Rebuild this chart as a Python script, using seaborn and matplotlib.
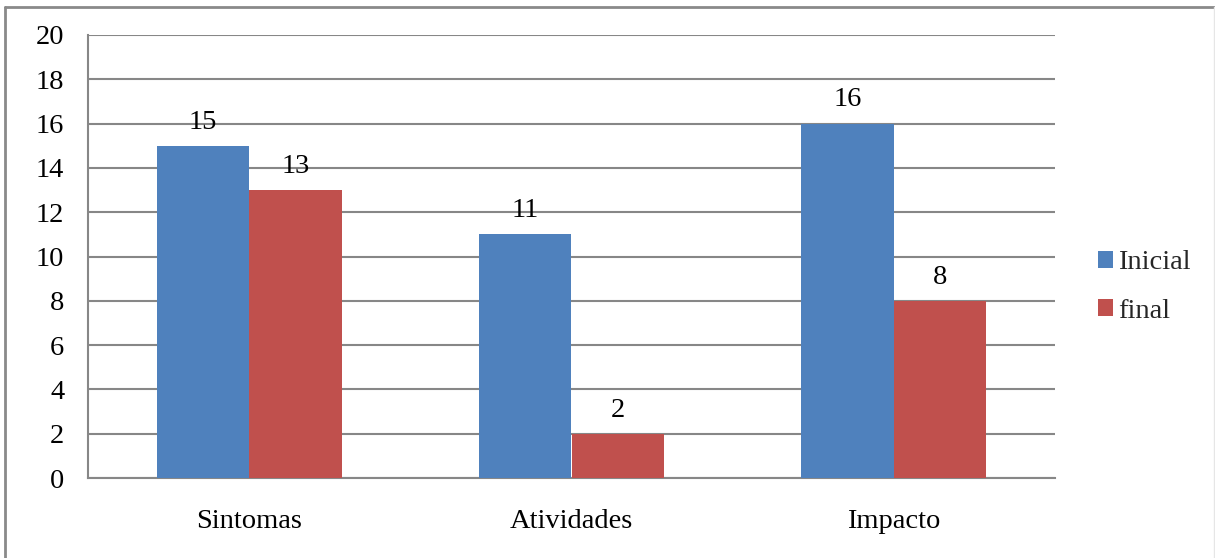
import matplotlib
matplotlib.use("Agg")
import matplotlib.pyplot as plt
import seaborn as sns
import pandas as pd
from matplotlib.patches import Patch
from matplotlib.lines import Line2D

categories = ["Sintomas", "Atividades", "Impacto"]
series_names = ["Inicial", "final"]
inicial = [15, 11, 16]
final = [13, 2, 8]
y_ticks = list(range(0, 21, 2))

colors = ["#4F81BD", "#C0504D"]
grid_color = "#878787"

sns.set_theme(style="white")
plt.rcParams["font.family"] = ["Liberation Serif", "DejaVu Serif"]
FS = 20.5

df = pd.DataFrame({
    "categoria": categories * 2,
    "serie": [series_names[0]] * 3 + [series_names[1]] * 3,
    "valor": inicial + final,
})

W, H = 1215, 558
fig = plt.figure(figsize=(W / 100, H / 100), dpi=100)
ax = fig.add_axes([88 / W, (H - 478) / H, (1055 - 88) / W, (478 - 35) / H])

sns.barplot(data=df, x="categoria", y="valor", hue="serie", order=categories,
            hue_order=series_names, palette=colors, width=0.574, gap=0,
            saturation=1, errorbar=None, legend=False, ax=ax, zorder=3,
            linewidth=0, edgecolor="none")

for container in ax.containers:
    ax.bar_label(container, fmt="%g", padding=8, fontsize=FS, color="black", zorder=4)

ax.set_xlim(-0.5, 2.5)
ax.set_ylim(0, 20)
ax.set_yticks(y_ticks)
ax.set_yticklabels([str(v) for v in y_ticks], fontsize=FS, color="black")
ax.set_xticks(range(len(categories)))
ax.set_xticklabels(categories, fontsize=FS, color="black")
ax.set_xticks([-0.5, 0.5, 1.5, 2.5], minor=True)
ax.tick_params(axis="x", which="major", length=0, pad=22)
ax.tick_params(axis="x", which="minor", length=8, width=1.5, color=grid_color, direction="out")
ax.tick_params(axis="y", which="major", length=8, width=1.5, color=grid_color, direction="out", pad=9)
ax.set_xlabel("")
ax.set_ylabel("")

ax.yaxis.grid(True, color=grid_color, linewidth=1.5, zorder=0)
ax.set_axisbelow(True)
for side in ["top", "right"]:
    ax.spines[side].set_visible(False)
for side in ["left", "bottom"]:
    ax.spines[side].set_color(grid_color)
    ax.spines[side].set_linewidth(1.5)

handles = [Patch(facecolor=c, edgecolor="none") for c in colors]
fig.legend(handles, series_names, loc="center left", bbox_to_anchor=(1098 / W, 1 - 287 / H),
           frameon=False, fontsize=FS, handlelength=0.52, handleheight=0.52,
           handletextpad=0.17, labelspacing=0.82, borderaxespad=0, borderpad=0)

# chart frame
fig.add_artist(Line2D([5 / W, 5 / W], [0, 1 - 7 / H], transform=fig.transFigure,
                      color="#8a8a8a", linewidth=2))
fig.add_artist(Line2D([5 / W, 1214 / W], [1 - 7 / H, 1 - 7 / H], transform=fig.transFigure,
                      color="#8a8a8a", linewidth=2))
fig.add_artist(Line2D([1214 / W, 1214 / W], [0, 1 - 7 / H], transform=fig.transFigure,
                      color="#e6e6e6", linewidth=1))

fig.savefig("out.png", dpi=100)
